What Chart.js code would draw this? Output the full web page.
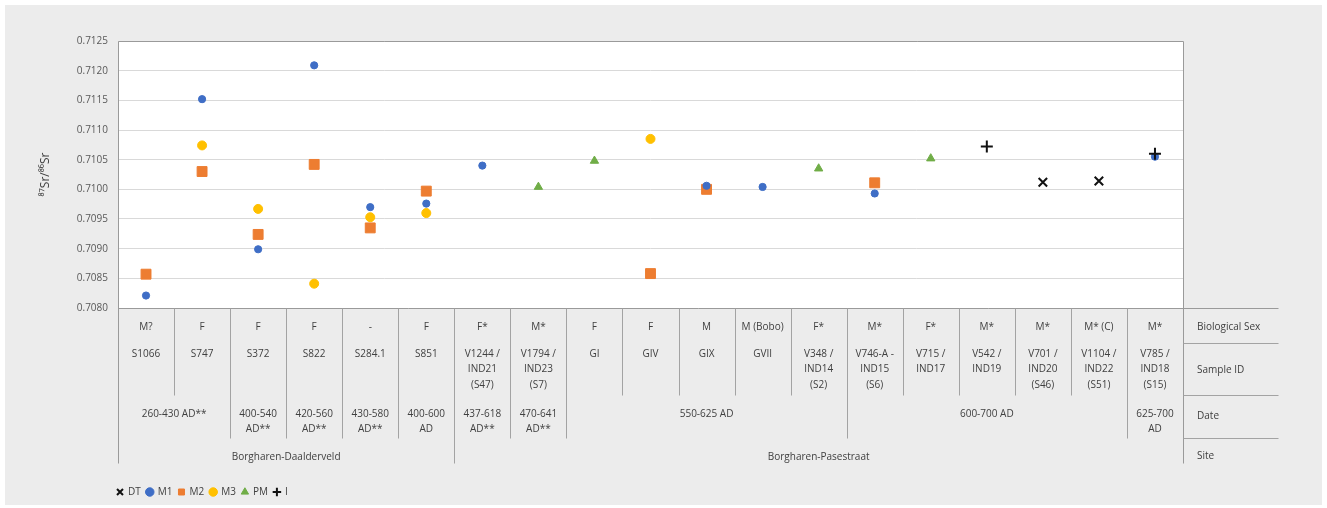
<!DOCTYPE html>
<html>
<head>
<meta charset="utf-8">
<title>Strontium isotope ratios – Borgharen</title>
<script src="https://cdn.jsdelivr.net/npm/chart.js@4/dist/chart.umd.min.js"></script>
<style>
  html, body { margin: 0; padding: 0; background: #ffffff; }
  canvas { display: block; }
</style>
</head>
<body>
<canvas id="chart" width="1327" height="508"></canvas>
<script>
// Samples, in display order
const sampleIds = ['S1066', 'S747', 'S372', 'S822', 'S284.1', 'S851', 'V1244', 'V1794', 'GI', 'GIV',
  'GIX', 'GVII', 'V348', 'V746-A', 'V715', 'V542', 'V701', 'V1104', 'V785'];

// Sample ID labels as printed in the table (one entry per line)
const sampleLabels = [
  ['S1066'], ['S747'], ['S372'], ['S822'], ['S284.1'], ['S851'],
  ['V1244 /', 'IND21', '(S47)'], ['V1794 /', 'IND23', '(S7)'],
  ['GI'], ['GIV'], ['GIX'], ['GVII'],
  ['V348 /', 'IND14', '(S2)'], ['V746-A -', 'IND15', '(S6)'],
  ['V715 /', 'IND17'], ['V542 /', 'IND19'],
  ['V701 /', 'IND20', '(S46)'], ['V1104 /', 'IND22', '(S51)'], ['V785 /', 'IND18', '(S15)']
];

const biologicalSex = ['M?', 'F', 'F', 'F', '-', 'F', 'F*', 'M*', 'F', 'F',
  'M', 'M (Bobo)', 'F*', 'M*', 'F*', 'M*', 'M*', 'M* (C)', 'M*'];

// Date ranges: [label lines, number of samples covered]
const dateGroups = [
  [['260-430 AD**'], 2],
  [['400-540', 'AD**'], 1],
  [['420-560', 'AD**'], 1],
  [['430-580', 'AD**'], 1],
  [['400-600', 'AD'], 1],
  [['437-618', 'AD**'], 1],
  [['470-641', 'AD**'], 1],
  [['550-625 AD'], 5],
  [['600-700 AD'], 5],
  [['625-700', 'AD'], 1]
];

// Sites: [label, number of samples covered]
const siteGroups = [
  ['Borgharen-Daalderveld', 6],
  ['Borgharen-Pasestraat', 13]
];

const rowTitles = ['Biological Sex', 'Sample ID', 'Date', 'Site'];

// 87Sr/86Sr values per sampled element (null = not sampled)
const dtValues = [null, null, null, null, null, null, null, null, null, null,
  null, null, null, null, null, null, 0.71012, 0.71014, null];
const m1Values = [0.70821, 0.71152, 0.70899, 0.71209, 0.70970, 0.70976, 0.71040, null, null, null,
  0.71006, 0.71004, null, 0.70993, null, null, null, null, 0.71055];
const m2Values = [0.70857, 0.71030, 0.70924, 0.71042, 0.70935, 0.70997, null, null, null, 0.70858,
  0.71000, null, null, 0.71011, null, null, null, null, null];
const m3Values = [null, 0.71074, 0.70967, 0.70841, 0.70953, 0.70960, null, null, null, 0.71085,
  null, null, null, null, null, null, null, null, null];
const pmValues = [null, null, null, null, null, null, null, 0.71004, 0.71048, null,
  null, null, 0.71035, null, 0.71052, null, null, null, null];
const iValues = [null, null, null, null, null, null, null, null, null, null,
  null, null, null, null, null, 0.71072, null, null, 0.71060];

const yMin = 0.7080, yMax = 0.7125, yStep = 0.0005;

const FONT = '"Open Sans", "DejaVu Sans", sans-serif';
const TEXT = '#404040';
const LINE = '#a3a3a3';

function series(label, data, style) {
  return Object.assign({
    label, data,
    showLine: false,
    pointHoverRadius: style.pointRadius,
    spanGaps: false
  }, style);
}

// Panel background, white plot area, and the category table under the plot
const framePlugin = {
  id: 'frame',
  beforeDraw(chart) {
    const { ctx, chartArea: a, width, height } = chart;
    ctx.save();
    ctx.fillStyle = '#ffffff';
    ctx.fillRect(0, 0, width, height);
    ctx.fillStyle = '#ececec';
    ctx.fillRect(5, 5, width - 10, height - 8);
    ctx.fillStyle = '#ffffff';
    ctx.fillRect(a.left, a.top, a.right - a.left, a.bottom - a.top);
    ctx.restore();
  },
  beforeDatasetsDraw(chart) {
    const { ctx, chartArea: a } = chart;
    const xs = chart.scales.x;
    const half = (xs.getPixelForValue(1) - xs.getPixelForValue(0)) / 2;
    const cx = i => xs.getPixelForValue(i);
    const edge = i => cx(i) - half;           // left edge of column i
    const b = a.bottom;
    const labelRight = a.right + 95;

    ctx.save();
    ctx.lineWidth = 1;
    ctx.strokeStyle = LINE;
    const line = (x1, y1, x2, y2) => {
      ctx.beginPath();
      ctx.moveTo(Math.round(x1) + 0.5, Math.round(y1) + 0.5);
      ctx.lineTo(Math.round(x2) + 0.5, Math.round(y2) + 0.5);
      ctx.stroke();
    };

    // plot frame
    ctx.strokeStyle = '#9a9a9a';
    line(a.left, a.top, a.right, a.top);
    line(a.left, a.top, a.left, b + 155);
    line(a.right, a.top, a.right, b + 155);
    line(a.left, b, labelRight, b);

    // row separators in the title column
    ctx.strokeStyle = LINE;
    [35, 87, 130].forEach(dy => line(a.right, b + dy, labelRight, b + dy));

    // vertical separators between samples, as deep as the grouping that changes
    const dateStarts = new Set(), siteStarts = new Set();
    let k = 0;
    dateGroups.forEach(g => { dateStarts.add(k); k += g[1]; });
    k = 0;
    siteGroups.forEach(g => { siteStarts.add(k); k += g[1]; });
    for (let i = 1; i < sampleIds.length; i++) {
      let depth = 87;
      if (dateStarts.has(i)) depth = 130;
      if (siteStarts.has(i)) depth = 155;
      line(edge(i), b, edge(i), b + depth);
    }

    ctx.fillStyle = TEXT;
    ctx.font = '10px ' + FONT;
    ctx.textAlign = 'center';
    ctx.textBaseline = 'middle';

    // biological sex and sample IDs
    sampleIds.forEach((id, i) => {
      ctx.fillText(biologicalSex[i], cx(i), b + 19);
      sampleLabels[i].forEach((t, j) => ctx.fillText(t, cx(i), b + 46 + j * 15.5));
    });

    // dates
    k = 0;
    dateGroups.forEach(([lines, n]) => {
      const mid = (edge(k) + edge(k + n - 1) + 2 * half) / 2;
      lines.forEach((t, j) => ctx.fillText(t, mid, b + 106 + j * 15.5));
      k += n;
    });

    // sites
    k = 0;
    siteGroups.forEach(([t, n]) => {
      const mid = (edge(k) + edge(k + n - 1) + 2 * half) / 2;
      ctx.fillText(t, mid, b + 149);
      k += n;
    });

    // row titles
    ctx.textAlign = 'left';
    const rowY = [19, 62, 108, 148];
    rowTitles.forEach((t, j) => ctx.fillText(t, a.right + 14, b + rowY[j]));
    ctx.restore();
  }
};

// Start the legend under the plot's left edge
const legendOffset = {
  id: 'legendOffset',
  afterUpdate(chart) {
    const lg = chart.legend;
    if (!lg) return;
    const target = chart.chartArea.left - 7;
    const dx = target - lg.left;
    lg.left += dx;
    lg.right += dx;
  }
};

new Chart(document.getElementById('chart'), {
  type: 'line',
  data: {
    labels: sampleIds,
    datasets: [
      series('DT', dtValues, { order: 0, pointStyle: 'crossRot', pointRadius: 6, borderColor: '#111111', backgroundColor: '#111111', pointBorderWidth: 2, borderWidth: 2 }),
      series('M1', m1Values, { order: 1, pointStyle: 'circle', pointRadius: 3.6, borderColor: '#3f6ec6', backgroundColor: '#3f6ec6', pointBorderWidth: 1, borderWidth: 1 }),
      series('M2', m2Values, { order: 2, pointStyle: 'rect', pointRadius: 7, borderColor: '#ed7d31', backgroundColor: '#ed7d31', pointBorderWidth: 1, borderWidth: 1 }),
      series('M3', m3Values, { order: 3, pointStyle: 'circle', pointRadius: 4.5, borderColor: '#ffc000', backgroundColor: '#ffc000', pointBorderWidth: 1, borderWidth: 1 }),
      series('PM', pmValues, { order: 4, pointStyle: 'triangle', pointRadius: 4.8, borderColor: '#70ad47', backgroundColor: '#70ad47', pointBorderWidth: 1, borderWidth: 1 }),
      series('I', iValues, { order: 0, pointStyle: 'cross', pointRadius: 6, borderColor: '#111111', backgroundColor: '#111111', pointBorderWidth: 2, borderWidth: 2 })
    ]
  },
  options: {
    responsive: false,
    animation: false,
    devicePixelRatio: 1,
    layout: { padding: { left: 34, top: 41, right: 144, bottom: 1 } },
    plugins: {
      tooltip: { enabled: false },
      legend: {
        position: 'bottom',
        align: 'start',
        labels: {
          usePointStyle: true,
          boxWidth: 6,
          boxHeight: 6,
          padding: 6,
          color: TEXT,
          font: { family: FONT, size: 10 },
          sort: (a, b) => a.datasetIndex - b.datasetIndex
        }
      }
    },
    scales: {
      x: {
        type: 'category',
        offset: true,
        grid: { display: false },
        border: { display: false },
        ticks: { display: false },
        afterFit(scale) { scale.height = 173; }
      },
      y: {
        min: yMin,
        max: yMax,
        border: { display: false },
        grid: { color: '#d9d9d9', drawTicks: false, lineWidth: 1 },
        ticks: {
          stepSize: yStep,
          padding: 10,
          color: '#595959',
          font: { family: FONT, size: 10 },
          callback: v => Number(v).toFixed(4)
        },
        title: {
          display: true,
          text: '⁸⁷Sr/⁸⁶Sr',
          color: TEXT,
          font: { family: FONT, size: 12 },
          padding: { top: 4, bottom: 4 }
        },
        afterFit(scale) { scale.width = 84; }
      }
    }
  },
  plugins: [framePlugin, legendOffset]
});
</script>
</body>
</html>
